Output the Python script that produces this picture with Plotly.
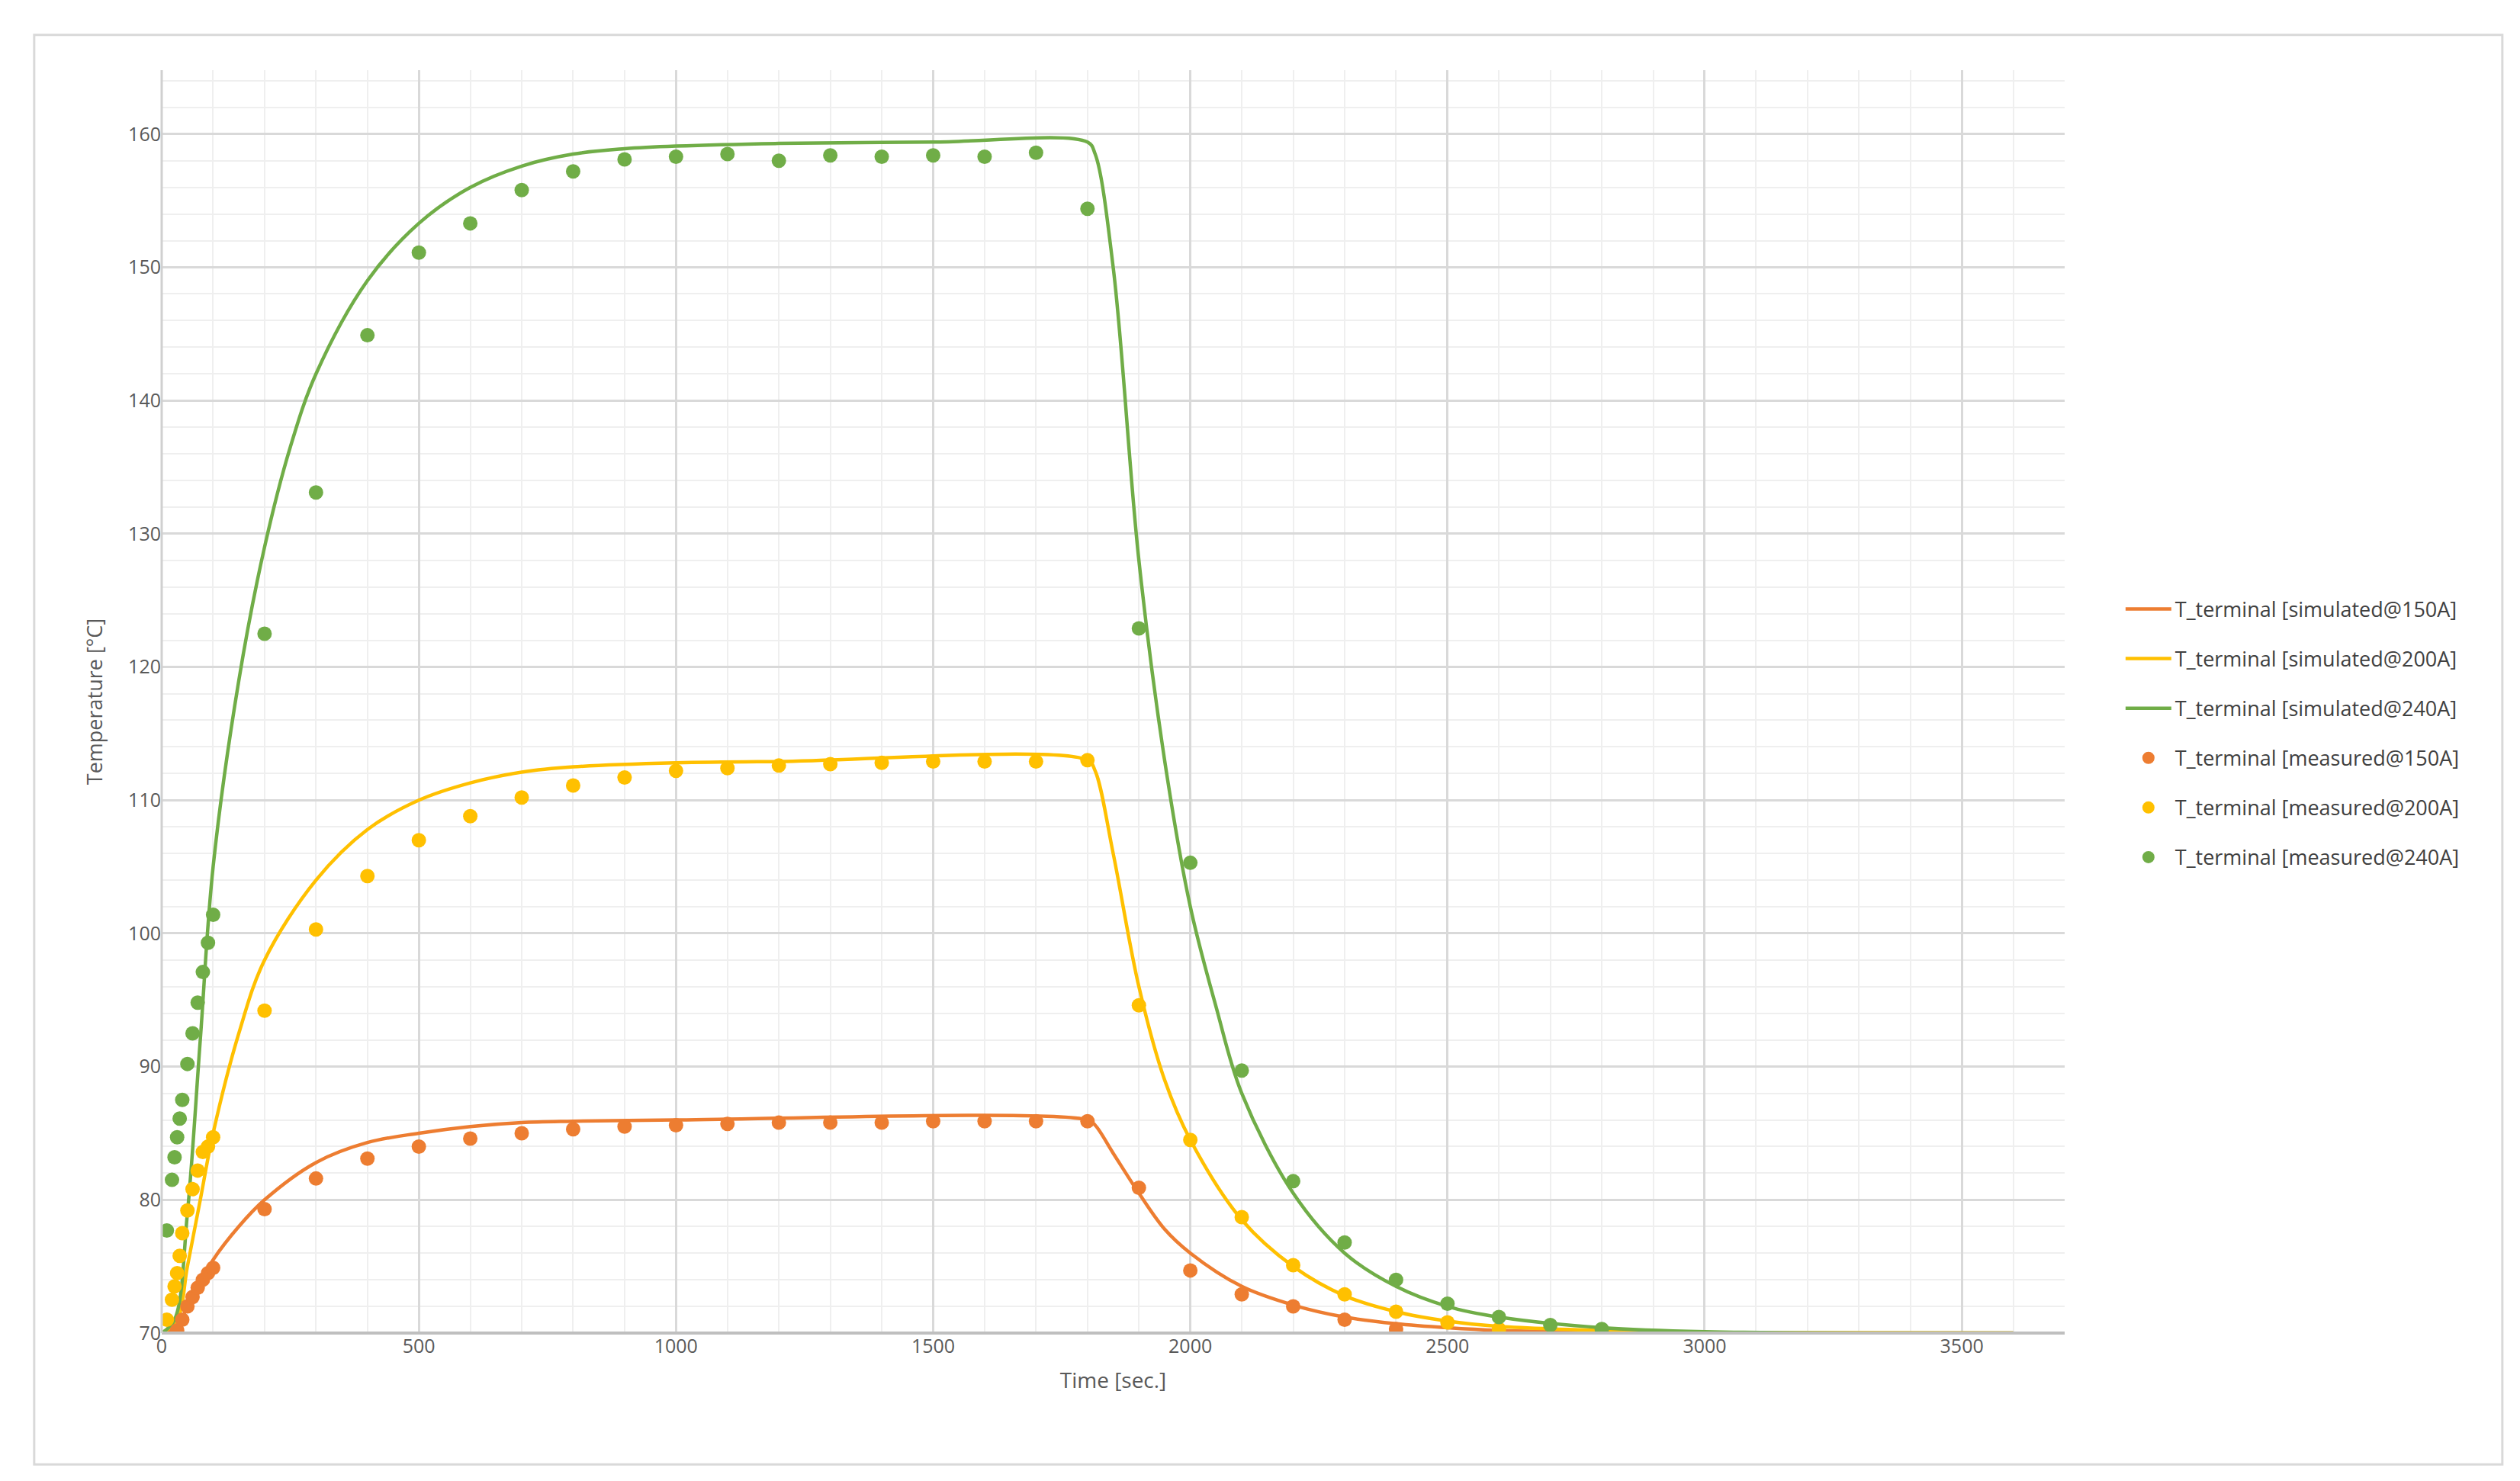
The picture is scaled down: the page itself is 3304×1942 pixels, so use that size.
import plotly.graph_objects as go

# measured data
t_g = [10,20,25,30,35,40,50,60,70,80,90,100,200,300,400,500,600,700,800,900,1000,1100,1200,1300,1400,1500,1600,1700,1800,1900,2000,2100,2200,2300,2400,2500,2600,2700,2800]
m_g = [77.7,81.5,83.2,84.7,86.1,87.5,90.2,92.5,94.8,97.1,99.3,101.4,122.5,133.1,144.9,151.1,153.3,155.8,157.2,158.1,158.3,158.5,158.0,158.4,158.3,158.4,158.3,158.6,154.4,122.9,105.3,89.7,81.4,76.8,74.0,72.2,71.2,70.6,70.3]
t_y = [10,20,25,30,35,40,50,60,70,80,90,100,200,300,400,500,600,700,800,900,1000,1100,1200,1300,1400,1500,1600,1700,1800,1900,2000,2100,2200,2300,2400,2500,2600]
m_y = [71.0,72.5,73.5,74.5,75.8,77.5,79.2,80.8,82.2,83.6,84.0,84.7,94.2,100.3,104.3,107.0,108.8,110.2,111.1,111.7,112.2,112.4,112.6,112.7,112.8,112.9,112.9,112.9,113.0,94.6,84.5,78.7,75.1,72.9,71.6,70.8,70.3]
t_o = [30,40,50,60,70,80,90,100,200,300,400,500,600,700,800,900,1000,1100,1200,1300,1400,1500,1600,1700,1800,1900,2000,2100,2200,2300,2400]
m_o = [70.2,71.0,72.0,72.7,73.4,74.0,74.5,74.9,79.3,81.6,83.1,84.0,84.6,85.0,85.3,85.5,85.6,85.7,85.8,85.8,85.8,85.9,85.9,85.9,85.9,80.9,74.7,72.9,72.0,71.0,70.3]

# simulated data
ts_g = [0,25,50,75,100,150,200,250,300,400,500,600,700,800,900,1000,1200,1500,1800,1815,1850,1900,1950,2000,2050,2100,2200,2300,2400,2500,2600,2800,3000,3600]
s_g = [70,71,79,92,105,119,129,136.5,142,149,153.3,156,157.6,158.5,158.9,159.1,159.3,159.4,159.4,158.5,150,128,113,102,94.5,88,80.5,76,73.5,72,71.2,70.4,70.1,70]
ts_y = [0,30,50,75,100,150,200,300,400,500,600,700,800,1000,1200,1800,1815,1850,1900,1950,2000,2100,2200,2300,2400,2500,2600,2800,3000,3600]
s_y = [70,71,75,80,85,92.5,98,104,107.8,110,111.3,112.1,112.5,112.8,112.9,113,112.2,106,96,89,84.5,78.5,75,72.8,71.6,70.9,70.5,70.2,70.05,70]
ts_o = [0,30,50,75,100,150,200,300,400,500,600,700,800,1000,1800,1815,1850,1900,1950,2000,2100,2200,2300,2400,2500,2600,2800,3000,3600]
s_o = [70,70.5,72,73.8,75.5,78,80,82.8,84.3,85.0,85.5,85.8,85.9,86.0,86.0,85.6,83.5,80.5,77.8,76,73.5,72.1,71.2,70.7,70.4,70.2,70.05,70,70]

C_O, C_Y, C_G = "#ED7D31", "#FFC000", "#70AD47"

fig = go.Figure()
for t, s, c, n in [(ts_o, s_o, C_O, "150A"), (ts_y, s_y, C_Y, "200A"), (ts_g, s_g, C_G, "240A")]:
    fig.add_trace(go.Scatter(x=t, y=s, mode="lines", line=dict(color=c, width=4.5, shape="spline", smoothing=1.0),
                             name=f"T_terminal [simulated@{n}]", legendgroup="s" + n))
for t, m, c, n in [(t_o, m_o, C_O, "150A"), (t_y, m_y, C_Y, "200A"), (t_g, m_g, C_G, "240A")]:
    fig.add_trace(go.Scatter(x=t, y=m, mode="markers", marker=dict(color=c, size=19),
                             name=f"T_terminal [measured@{n}]", legendgroup="m" + n))

axfont = dict(family="Open Sans", size=25, color="#595959")
fig.update_layout(
    width=3304, height=1942, paper_bgcolor="white", plot_bgcolor="white",
    margin=dict(l=204, r=605, t=84, b=202),
    showlegend=True,
    legend=dict(x=1.03, y=0.475, xanchor="left", yanchor="middle", font=dict(family="Open Sans", size=27, color="#404040"),
                tracegroupgap=27, itemwidth=60),
    xaxis=dict(range=[0, 3700], tickvals=[0,500,1000,1500,2000,2500,3000,3500], tickfont=axfont,
               showgrid=True, gridcolor="#d9d9d9", gridwidth=3,
               minor=dict(dtick=100, showgrid=True, gridcolor="#efefef", gridwidth=2),
               zeroline=False, showline=False, ticks="",
               title=dict(text="Time [sec.]", font=dict(family="Open Sans", size=28, color="#595959"), standoff=20)),
    yaxis=dict(range=[70, 164.8], tickvals=list(range(70, 161, 10)), tickfont=axfont,
               showgrid=True, gridcolor="#d9d9d9", gridwidth=3,
               minor=dict(dtick=2, showgrid=True, gridcolor="#efefef", gridwidth=2),
               zeroline=False, showline=False, ticks="",
               title=dict(text="Temperature [°C]", font=dict(family="Open Sans", size=27, color="#595959"), standoff=25)),
    shapes=[
        dict(type="rect", xref="paper", yref="paper", x0=-0.067, x1=1.23, y0=-0.104, y1=1.028,
             line=dict(color="#d9d9d9", width=3), layer="below"),
        dict(type="line", xref="paper", yref="paper", x0=0, x1=1, y0=0, y1=0, line=dict(color="#bfbfbf", width=4)),
        dict(type="line", xref="paper", yref="paper", x0=0, x1=0, y0=0, y1=1, line=dict(color="#d0d0d0", width=3)),
    ],
)
fig.write_html("out.html")
